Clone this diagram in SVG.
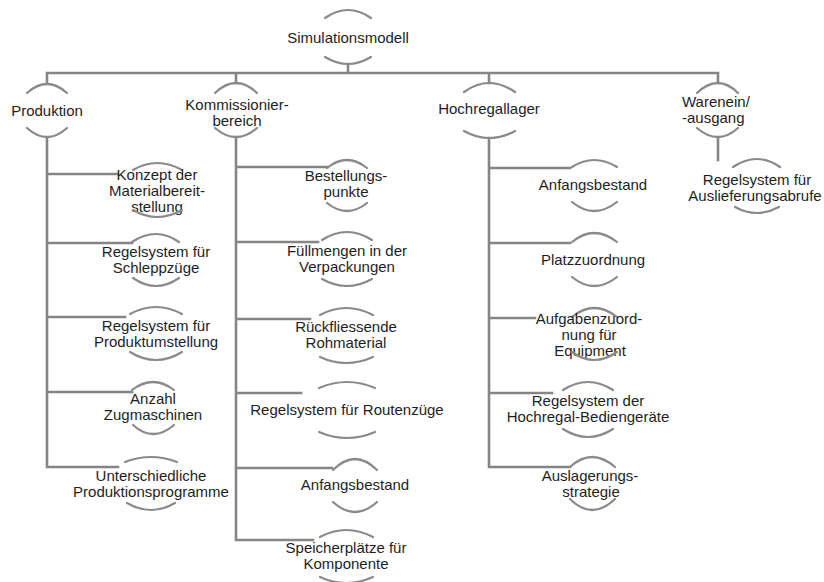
<svg xmlns="http://www.w3.org/2000/svg" width="824" height="582" viewBox="0 0 824 582">
<style>
.bg{fill:#ffffff}
.c{fill:none;stroke:#858585;stroke-width:2.6;stroke-linecap:square}
.a{fill:none;stroke:#8a8a8a;stroke-width:2.2;stroke-linecap:round}
text{font-family:"Liberation Sans",Arial,sans-serif;font-size:15px;fill:#1e1e1e;text-anchor:middle}
</style>
<rect class="bg" x="0" y="0" width="824" height="582"/>
<g id="connectors">
<path class="c" d="M348,64V73M47,73H718M47,73V83M236,73V83M489,73V83M718,73V83"/>
<path class="c" d="M47,138V467H118M47,174H117M47,243H132M47,317H125M47,392H132"/>
<path class="c" d="M236,138V540H313M236,167H327M236,242H318M236,319H310M236,393H301M236,468H332"/>
<path class="c" d="M489,138V467H570M489,168H570M489,243H570M489,318H535M489,393H552"/>
<path class="c" d="M718,138V160"/>
</g>
<g id="n-simulationsmodell">
<path class="a" d="M325,18Q348,2 371,18"/>
<text x="348" y="43">Simulationsmodell</text>
<path class="a" d="M325,57Q348,71 371,57"/>
</g>
<g id="n-produktion">
<path class="a" d="M27,93Q47,75 67,93"/>
<text x="47" y="116">Produktion</text>
<path class="a" d="M27,128Q47,146 67,128"/>
</g>
<g id="n-kommissionierbereich">
<path class="a" d="M215,93Q236,73 257,93"/>
<text x="237" y="110">Kommissionier-</text>
<text x="237" y="126">bereich</text>
<path class="a" d="M215,128Q236,146 257,128"/>
</g>
<g id="n-hochregallager">
<path class="a" d="M464,92Q489,74 515,92"/>
<text x="489" y="114">Hochregallager</text>
<path class="a" d="M464,131Q489,145 515,131"/>
</g>
<g id="n-warenein">
<path class="a" d="M697,93Q718,73 738,93"/>
<text x="682" y="107" style="text-anchor:start">Warenein/</text>
<text x="682" y="123" style="text-anchor:start">-ausgang</text>
<path class="a" d="M697,128Q718,146 738,128"/>
</g>
<g id="n-konzept">
<path class="a" d="M133,170Q157,156 182,170"/>
<text x="157" y="180">Konzept der</text>
<text x="157" y="196">Materialbereit-</text>
<text x="157" y="212">stellung</text>
<path class="a" d="M133,210Q157,224 182,210"/>
</g>
<g id="n-schleppzuege">
<path class="a" d="M132,242Q156,226 179,242"/>
<text x="156" y="257">Regelsystem für</text>
<text x="156" y="273">Schleppzüge</text>
<path class="a" d="M133,278Q156,294 179,278"/>
</g>
<g id="n-produktumstellung">
<path class="a" d="M130,314Q156,300 182,314"/>
<text x="156" y="331">Regelsystem für</text>
<text x="156" y="347">Produktumstellung</text>
<path class="a" d="M130,352Q156,368 182,352"/>
</g>
<g id="n-zugmaschinen">
<path class="a" d="M132,390Q153,374 174,390"/>
<text x="153" y="404">Anzahl</text>
<text x="153" y="420">Zugmaschinen</text>
<path class="a" d="M133,425Q153,443 174,425"/>
</g>
<g id="n-produktionsprogramme">
<path class="a" d="M125,462Q151,452 177,462"/>
<text x="151" y="481">Unterschiedliche</text>
<text x="151" y="497">Produktionsprogramme</text>
<path class="a" d="M127,503Q151,517 175,503"/>
</g>
<g id="n-bestellungspunkte">
<path class="a" d="M327,168Q347,152 367,168"/>
<text x="346" y="181">Bestellungs-</text>
<text x="346" y="197">punkte</text>
<path class="a" d="M327,203Q347,219 367,203"/>
</g>
<g id="n-fuellmengen">
<path class="a" d="M322,240Q347,224 372,240"/>
<text x="347" y="256">Füllmengen in der</text>
<text x="347" y="272">Verpackungen</text>
<path class="a" d="M322,279Q347,293 372,279"/>
</g>
<g id="n-rohmaterial">
<path class="a" d="M320,315Q346,301 373,315"/>
<text x="346" y="332">Rückfliessende</text>
<text x="346" y="348">Rohmaterial</text>
<path class="a" d="M320,357Q346,369 373,357"/>
</g>
<g id="n-routenzuege">
<path class="a" d="M319,388Q347,376 375,388"/>
<text x="347" y="415">Regelsystem für Routenzüge</text>
<path class="a" d="M319,432Q347,444 375,432"/>
</g>
<g id="n-anfangsbestand-k">
<path class="a" d="M333,470Q355,448 377,470"/>
<text x="355" y="490">Anfangsbestand</text>
<path class="a" d="M333,502Q355,522 377,502"/>
</g>
<g id="n-speicherplaetze">
<path class="a" d="M320,537Q346,523 373,537"/>
<text x="346" y="553">Speicherplätze für</text>
<text x="346" y="569">Komponente</text>
<path class="a" d="M320,577Q346,589 373,577"/>
</g>
<g id="n-anfangsbestand-h">
<path class="a" d="M572,167Q594,153 617,167"/>
<text x="593" y="190">Anfangsbestand</text>
<path class="a" d="M572,202Q594,220 617,202"/>
</g>
<g id="n-platzzuordnung">
<path class="a" d="M572,242Q594,224 617,242"/>
<text x="593" y="265">Platzzuordnung</text>
<path class="a" d="M572,277Q594,295 617,277"/>
</g>
<g id="n-aufgabenzuordnung">
<path class="a" d="M572,317Q594,299 617,317"/>
<text x="589" y="324">Aufgabenzuord-</text>
<text x="589" y="340">nung für</text>
<text x="590" y="356">Equipment</text>
<path class="a" d="M572,352Q594,368 617,352"/>
</g>
<g id="n-bediengeraete">
<path class="a" d="M563,390Q588,374 613,390"/>
<text x="588" y="406">Regelsystem der</text>
<text x="588" y="422">Hochregal-Bediengeräte</text>
<path class="a" d="M563,429Q588,445 613,429"/>
</g>
<g id="n-auslagerungsstrategie">
<path class="a" d="M570,467Q592,447 615,467"/>
<text x="590" y="481">Auslagerungs-</text>
<text x="591" y="497">strategie</text>
<path class="a" d="M570,499Q592,521 615,499"/>
</g>
<g id="n-auslieferungsabrufe">
<path class="a" d="M733,167Q757,151 780,167"/>
<text x="757" y="185">Regelsystem für</text>
<text x="755" y="201">Auslieferungsabrufe</text>
<path class="a" d="M735,207Q757,219 779,207"/>
</g>
</svg>
